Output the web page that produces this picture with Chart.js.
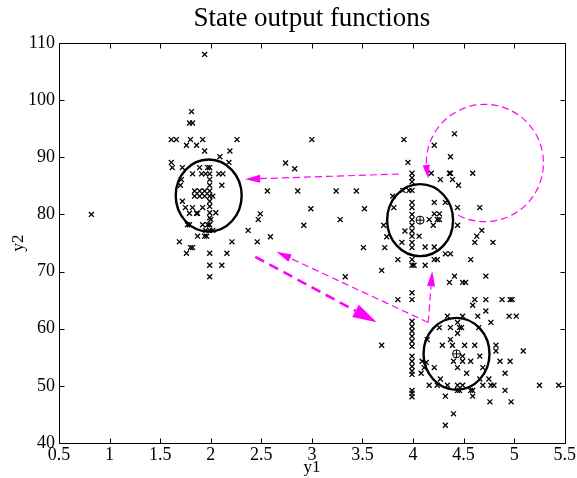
<!DOCTYPE html>
<html><head><meta charset="utf-8">
<script src="https://cdn.jsdelivr.net/npm/chart.js@4/dist/chart.umd.min.js"></script>
<style>html,body{margin:0;padding:0;background:#fff}</style>
</head><body>
<canvas id="c" width="577" height="478"></canvas>
<script>
// ---- data (y1, y2) ----
const leftPoints = [
 [0.82,80],[1.94,108],[1.81,98],[1.79,96],[1.82,96],
 [1.61,93.1],[1.66,93.1],[1.80,93.1],[1.92,93.1],[2.26,93.1],
 [1.76,92.1],[1.86,92.1],[1.94,91.1],[2.19,91.1],[2.09,90.1],
 [2.18,89.1],[1.61,89.1],[1.62,88.2],[1.72,88.2],[1.89,88.2],[1.97,88.2],[1.99,88.2],
 [1.71,86.1],[1.70,85.1],[1.82,87.1],[1.91,87.1],[1.95,87.1],[1.99,87.1],[2.08,87.1],[2.12,87.1],
 [1.99,86.1],[1.99,85.1],[2.11,85.1],
 [1.84,84.1],[1.89,84.1],[1.94,84.1],[1.99,84.1],
 [1.84,83.2],[1.89,83.2],[1.94,83.2],[1.99,83.2],[2.02,83.2],
 [1.99,82.3],[1.72,82.3],[1.99,81.4],[1.75,81.2],[1.82,81.2],[1.92,81.2],
 [1.99,80.3],[2.05,80.3],[1.79,80.2],[1.86,80.2],[1.87,80.2],
 [1.99,79.4],[2.00,79.1],
 [1.77,78.2],[1.79,78.2],[1.92,78.2],[1.97,78.2],[1.99,78.2],
 [1.95,77.2],[1.99,77.2],[2.02,77.2],
 [1.87,76.2],[1.94,76.2],[1.96,76.2],
 [1.69,75.2],[2.21,75.2],[1.80,74.2],[1.82,74.2],
 [1.76,73.2],[1.99,73.2],[2.16,73.2],[1.99,71.1],[2.11,71.1],[1.99,69.1],
 [2.37,77.2],[2.46,75.2],[2.56,84.1],[2.49,80.1],[2.47,79.1],[2.59,76.1]
];
const bridgePoints = [
 [2.74,89.0],[2.83,88.0],[2.86,84.1],[3.24,84.1],[3.44,84.1],[2.99,81.0],[3.52,81.0],
 [2.92,78.1],[3.28,79.1],[3.71,78.1],[3.74,76.1],[3.51,74.2],[3.72,74.2],[3.69,70.2],
 [3.33,69.1],[3.00,93.1]
];
const middlePoints = [
 [4.41,94.1],[3.91,93.1],[4.21,92.1],[3.95,89.1],[4.37,90.1],
 [3.99,87.2],[3.99,86.4],[3.99,85.7],[4.18,87.2],[4.36,87.2],[4.37,87.2],[4.59,87.2],
 [4.27,86.1],[4.39,86.1],[4.45,85.1],
 [3.90,84.2],[3.96,84.2],[3.99,84.2],[3.80,83.2],
 [3.99,82.1],[3.99,81.2],[3.99,80.0],[3.99,79.1],[3.99,78.1],[3.99,77.1],[3.99,76.2],[3.99,75.1],[3.99,74.2],
 [4.21,82.1],[4.32,82.1],[3.81,81.2],[4.44,81.2],[4.66,81.2],
 [4.21,80.1],[4.26,80.1],[4.16,79.1],[4.24,79.1],[4.26,79.1],
 [4.20,78.1],[4.44,78.1],[4.68,77.2],[3.92,77.1],[4.63,76.2],[4.06,76.2],
 [4.61,75.1],[4.79,75.1],[3.89,75.1],[4.12,74.3],[4.21,74.3],[4.32,73.1],[4.37,73.1],
 [3.85,72.1],[4.21,72.1],[4.24,72.1],[3.99,72.1],[3.99,71.1],[4.01,71.1],[4.12,71.1],[4.57,72.1],
 [4.41,69.2],[4.72,69.2]
];
const lowerPoints = [
 [4.36,68.1],[4.49,68.1],[4.52,68.1],
 [3.99,66.3],[3.99,65.1],[3.85,65.1],[4.61,65.1],[4.72,65.1],[4.88,65.1],[4.96,65.1],[4.98,65.1],
 [4.59,64.1],[4.72,63.1],
 [3.99,61.3],[3.99,60.4],[3.99,59.6],[3.99,58.7],[3.99,57.8],[3.99,56.9],
 [4.34,62.2],[4.49,62.2],[4.64,62.2],[4.95,62.2],[5.02,62.2],[4.77,61.1],[4.44,61.1],
 [4.26,60.2],[4.37,60.2],[4.46,60.2],[4.48,60.2],[4.65,60.2],
 [4.44,59.2],[4.37,58.1],[4.14,58.1],
 [3.69,57.1],[4.29,57.1],[4.39,57.1],[4.51,57.1],[4.61,57.1],[4.82,57.1],[4.82,56.1],[5.09,56.1],
 [3.99,55.2],[3.99,54.3],[3.99,53.4],[3.99,52.6],[3.99,52.0],
 [4.49,55.2],[4.66,55.2],[4.09,54.3],[4.13,54.1],[4.40,54.3],[4.49,54.3],[4.57,54.3],[4.86,54.3],[4.96,54.3],
 [4.11,53.2],[4.21,53.2],[4.44,53.2],[4.69,53.2],
 [4.08,52.2],[4.53,52.2],[4.91,52.2],
 [4.27,51.2],[4.66,51.2],[4.75,51.2],
 [4.16,50.1],[4.24,50.1],[4.34,50.1],[4.44,50.1],[4.49,50.1],[4.69,50.1],[4.77,50.1],[4.80,50.1],[5.25,50.1],[5.44,50.1],
 [3.99,49.2],[3.99,48.7],[3.99,48.1],
 [4.44,49.2],[4.46,49.2],[4.57,49.2],[4.59,49.2],[4.91,49.2],
 [4.32,48.2],[4.59,48.2],[4.76,47.2],[4.97,47.2],[4.40,45.1],[4.32,43.1]
];
// state centres (y1, y2) and circle radius (in y1, y2 units)
const stateCentres = [[1.98,83.3],[4.07,79.0],[4.43,55.6]];
const stateMarked = [false, true, true];
const stateRadius = [0.326, 6.3];
// transitions: [fromY1, fromY2, toY1, toY2, kind]
const transitions = [
 [3.86,87.07, 2.34,86.17, 'thin'],
 [2.44,72.59, 3.64,61.14, 'thick'],
 [4.15,61.1, 2.65,73.46, 'thin'],
 [4.15,61.1, 4.19,70.07, 'thin']
];
// self loop: centre (y1,y2), radius (y1,y2 units), start/end angle (deg)
const selfLoopCentre = [4.71, 89.0];
const selfLoopRadius = [0.579, 10.27];
const selfLoopAngles = [117, 164.4];
const xTicks = [0.5,1,1.5,2,2.5,3,3.5,4,4.5,5,5.5];
const yTicks = [40,50,60,70,80,90,100,110];
const titleText = 'State output functions';

const toXY = arr => arr.map(p => ({x:p[0], y:p[1]}));
const serif = "'Liberation Serif','Times New Roman',serif";
const MAG = '#ff00ff';

function arrowHead(ctx, x1, y1, x2, y2, len, half) {
  const a = Math.atan2(y2-y1, x2-x1);
  const bx = x2 - len*Math.cos(a), by = y2 - len*Math.sin(a);
  ctx.beginPath();
  ctx.moveTo(x2, y2);
  ctx.lineTo(bx + half*Math.sin(a), by - half*Math.cos(a));
  ctx.lineTo(bx - half*Math.sin(a), by + half*Math.cos(a));
  ctx.closePath();
  ctx.fill();
}

const annot = {
  id: 'annot',
  afterDatasetsDraw(chart) {
    const {ctx, scales:{x, y}} = chart;
    const px = v => x.getPixelForValue(v), py = v => y.getPixelForValue(v);
    ctx.save();
    ctx.strokeStyle = '#000'; ctx.setLineDash([]);
    stateCentres.forEach(([cx, cy], i) => {
      const rx = px(cx + stateRadius[0]) - px(cx);
      const ry = py(cy) - py(cy + stateRadius[1]);
      ctx.lineWidth = 2.4;
      ctx.beginPath(); ctx.ellipse(px(cx), py(cy), rx, ry, 0, 0, Math.PI*2); ctx.stroke();
      if (stateMarked[i]) {
        ctx.lineWidth = 1;
        ctx.beginPath(); ctx.arc(px(cx), py(cy), 4, 0, Math.PI*2); ctx.stroke();
        ctx.beginPath(); ctx.moveTo(px(cx)-4, py(cy)); ctx.lineTo(px(cx)+4, py(cy));
        ctx.moveTo(px(cx), py(cy)-4); ctx.lineTo(px(cx), py(cy)+4); ctx.stroke();
      }
    });
    ctx.strokeStyle = MAG; ctx.fillStyle = MAG;
    transitions.forEach(([a1, b1, a2, b2, kind]) => {
      const x1 = px(a1), y1 = py(b1), x2 = px(a2), y2 = py(b2);
      const thick = kind === 'thick';
      const len = thick ? 24 : 15, half = thick ? 7 : 4;
      const a = Math.atan2(y2-y1, x2-x1);
      const bx = x2 - len*Math.cos(a), by = y2 - len*Math.sin(a);
      ctx.lineWidth = thick ? 2.6 : 1.2;
      ctx.setLineDash(thick ? [10, 6] : [7, 4]);
      ctx.beginPath(); ctx.moveTo(x1, y1); ctx.lineTo(bx, by); ctx.stroke();
      ctx.setLineDash([]);
      arrowHead(ctx, x1, y1, x2, y2, len, half);
    });
    const lcx = px(selfLoopCentre[0]), lcy = py(selfLoopCentre[1]);
    const lrx = px(selfLoopCentre[0] + selfLoopRadius[0]) - lcx;
    const lry = lcy - py(selfLoopCentre[1] + selfLoopRadius[1]);
    const s = selfLoopAngles[0]*Math.PI/180, e = selfLoopAngles[1]*Math.PI/180;
    ctx.lineWidth = 1.2; ctx.setLineDash([7, 4]);
    const eBase = e + 0.22;
    ctx.beginPath(); ctx.ellipse(lcx, lcy, lrx, lry, 0, s, eBase, true); ctx.stroke();
    ctx.setLineDash([]);
    const tx = lcx + lrx*Math.cos(e), ty = lcy + lry*Math.sin(e);
    const fx = lcx + lrx*Math.cos(eBase), fy = lcy + lry*Math.sin(eBase);
    arrowHead(ctx, fx, fy, tx, ty, 14, 3.6);
    ctx.restore();
  },
  afterDraw(chart) {
    const {ctx, chartArea:a, scales:{x, y}} = chart;
    ctx.save();
    ctx.strokeStyle = '#000'; ctx.lineWidth = 1; ctx.setLineDash([]);
    const L = Math.round(a.left)+0.5, R = Math.round(a.right)+0.5, T = Math.round(a.top)+0.5, B = Math.round(a.bottom)+0.5;
    ctx.beginPath(); ctx.rect(L, T, R-L, B-T); ctx.stroke();
    const tl = 5;
    ctx.beginPath();
    xTicks.forEach(v => { const X = Math.round(x.getPixelForValue(v))+0.5; ctx.moveTo(X, B); ctx.lineTo(X, B-tl); ctx.moveTo(X, T); ctx.lineTo(X, T+tl); });
    yTicks.forEach(v => { const Y = Math.round(y.getPixelForValue(v))+0.5; ctx.moveTo(L, Y); ctx.lineTo(L+tl, Y); ctx.moveTo(R, Y); ctx.lineTo(R-tl, Y); });
    ctx.stroke();
    ctx.fillStyle = '#000'; ctx.font = '27px ' + serif;
    ctx.textAlign = 'center'; ctx.textBaseline = 'middle';
    ctx.fillText(titleText, (a.left + a.right)/2, 19);
    ctx.restore();
  }
};

new Chart(document.getElementById('c'), {
  type: 'scatter',
  data: { datasets: [leftPoints, bridgePoints, middlePoints, lowerPoints].map(arr => ({
    data: toXY(arr), pointStyle: 'crossRot', pointRadius: 3.5, pointBorderWidth: 1.3,
    borderColor: '#000', backgroundColor: '#000', showLine: false
  })) },
  options: {
    responsive: false, animation: false, devicePixelRatio: 1,
    layout: { padding: { top: 43, right: 11, left: 0, bottom: 0 } },
    plugins: { legend: { display: false }, tooltip: { enabled: false }, title: { display: false } },
    scales: {
      x: {
        type: 'linear', min: 0.5, max: 5.5,
        afterBuildTicks: s => { s.ticks = xTicks.map(v => ({value: v})); },
        ticks: { callback: v => String(v), font: { family: serif, size: 18 }, color: '#000', padding: 1, maxRotation: 0, autoSkip: false },
        grid: { display: false, drawTicks: false }, border: { display: false },
        title: { display: true, text: 'y1', font: { family: serif, size: 17 }, color: '#000', padding: { top: 0, bottom: 0 } },
        afterFit: s => { s.height = 35; }
      },
      y: {
        type: 'linear', min: 40, max: 110,
        afterBuildTicks: s => { s.ticks = yTicks.map(v => ({value: v})); },
        ticks: { callback: v => String(v), font: { family: serif, size: 18 }, color: '#000', padding: 4, autoSkip: false },
        grid: { display: false, drawTicks: false }, border: { display: false },
        title: { display: true, text: 'y2', font: { family: serif, size: 17 }, color: '#000', padding: { top: 8, bottom: 0 } },
        afterFit: s => { s.width = 59; }
      }
    }
  },
  plugins: [annot]
});
</script>
</body></html>
